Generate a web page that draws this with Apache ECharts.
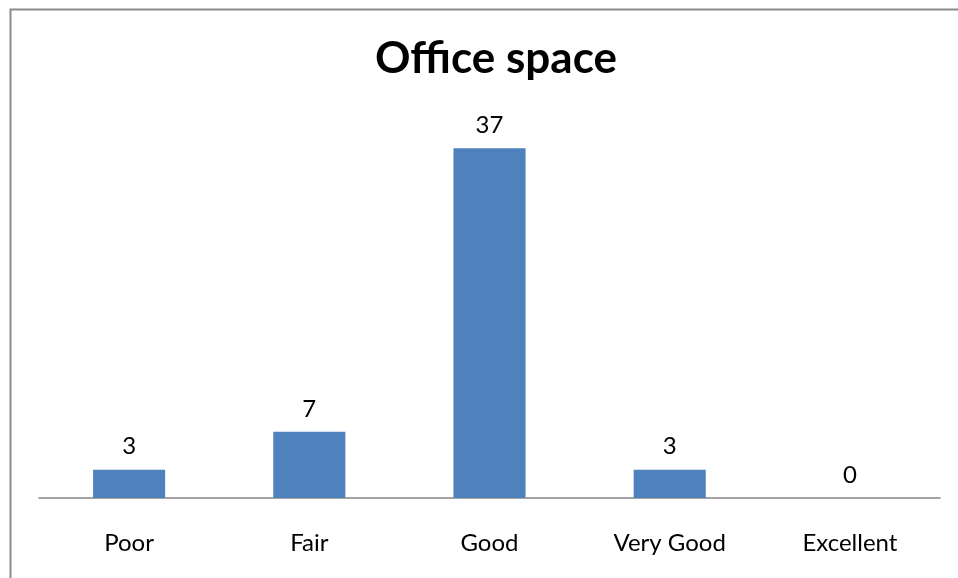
<!DOCTYPE html>
<html>
<head>
<meta charset="utf-8">
<script src="https://cdn.jsdelivr.net/npm/echarts@6/dist/echarts.min.js"></script>
<style>
  html, body { margin: 0; padding: 0; background: #fff; }
  #chart { width: 958px; height: 578px; }
</style>
</head>
<body>
<div id="chart"></div>
<script>
const categories = ['Poor', 'Fair', 'Good', 'Very Good', 'Excellent'];
const counts = [3, 7, 37, 3, 0];

const drawChart = (domElement) => {
  const chart = echarts.init(domElement);
  const option = {
    animation: false,
    textStyle: { fontFamily: 'Lato' },
    graphic: [{
      type: 'rect',
      left: 8,
      top: 7,
      shape: { width: 1000, height: 1000 },
      style: { fill: 'none', stroke: '#8c8c8c', lineWidth: 2 },
      silent: true,
    }],
    title: {
      text: 'Office space',
      left: 370,
      top: 32,
      textStyle: { fontSize: 44, fontWeight: 'bold', color: '#000', fontFamily: 'Lato' },
    },
    grid: { left: 39, right: 18, top: 120, bottom: 80 },
    xAxis: {
      type: 'category',
      data: categories,
      axisLine: { lineStyle: { color: '#868686', width: 1.5 } },
      axisTick: { show: false },
      axisLabel: { color: '#000', fontSize: 24, margin: 33 },
    },
    yAxis: {
      type: 'value',
      min: 0,
      max: 40,
      show: false,
      splitLine: { show: false },
    },
    series: [{
      type: 'bar',
      data: counts,
      barWidth: '40%',
      itemStyle: { color: '#4f81bd' },
      label: { show: true, position: 'top', distance: 11, color: '#000', fontSize: 24 },
    }],
  };
  chart.setOption(option);
};

drawChart(document.querySelector('#chart'));
</script>
</body>
</html>
